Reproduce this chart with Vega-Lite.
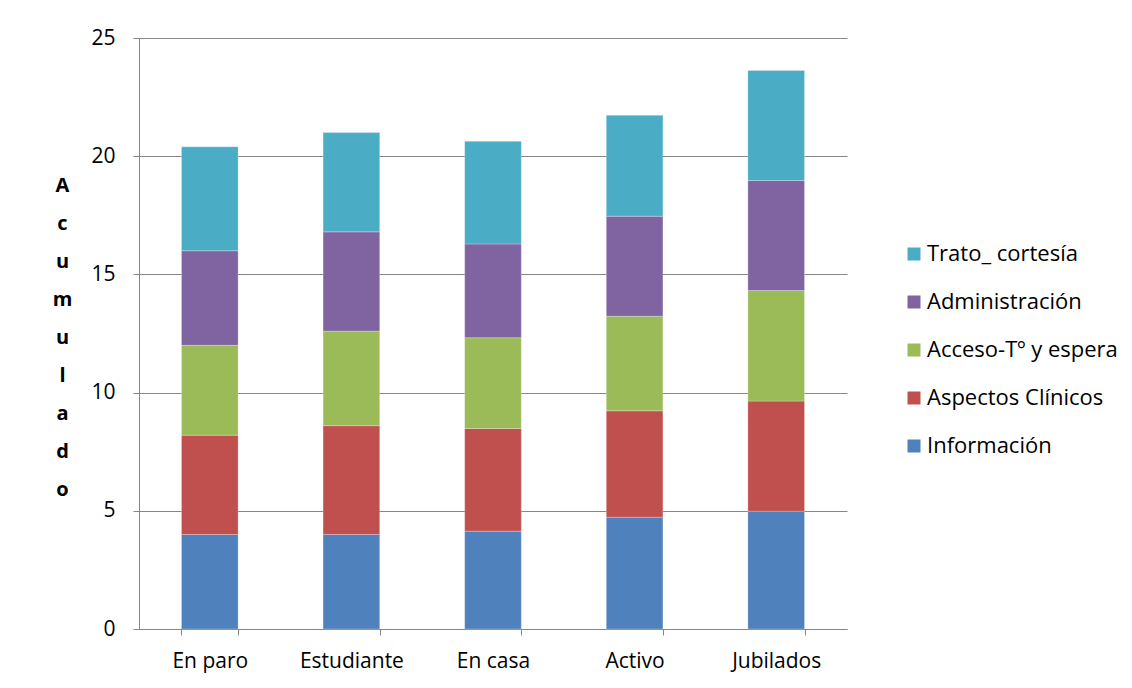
{
  "$schema": "https://vega.github.io/schema/vega-lite/v6.json",
  "width": 708,
  "height": 591,
  "autosize": "none",
  "padding": {"left": 139, "top": 38, "right": 285, "bottom": 59},
  "background": "white",
  "data": {
    "values": [
      {"grupo": "En paro", "serie": "Información", "orden": 1, "valor": 4.0},
      {"grupo": "En paro", "serie": "Aspectos Clínicos", "orden": 2, "valor": 4.2},
      {"grupo": "En paro", "serie": "Acceso-Tº y espera", "orden": 3, "valor": 3.8},
      {"grupo": "En paro", "serie": "Administración", "orden": 4, "valor": 4.0},
      {"grupo": "En paro", "serie": "Trato_ cortesía", "orden": 5, "valor": 4.4},
      {"grupo": "Estudiante", "serie": "Información", "orden": 1, "valor": 4.0},
      {"grupo": "Estudiante", "serie": "Aspectos Clínicos", "orden": 2, "valor": 4.6},
      {"grupo": "Estudiante", "serie": "Acceso-Tº y espera", "orden": 3, "valor": 4.0},
      {"grupo": "Estudiante", "serie": "Administración", "orden": 4, "valor": 4.2},
      {"grupo": "Estudiante", "serie": "Trato_ cortesía", "orden": 5, "valor": 4.2},
      {"grupo": "En casa", "serie": "Información", "orden": 1, "valor": 4.14},
      {"grupo": "En casa", "serie": "Aspectos Clínicos", "orden": 2, "valor": 4.34},
      {"grupo": "En casa", "serie": "Acceso-Tº y espera", "orden": 3, "valor": 3.84},
      {"grupo": "En casa", "serie": "Administración", "orden": 4, "valor": 3.97},
      {"grupo": "En casa", "serie": "Trato_ cortesía", "orden": 5, "valor": 4.34},
      {"grupo": "Activo", "serie": "Información", "orden": 1, "valor": 4.73},
      {"grupo": "Activo", "serie": "Aspectos Clínicos", "orden": 2, "valor": 4.5},
      {"grupo": "Activo", "serie": "Acceso-Tº y espera", "orden": 3, "valor": 4.0},
      {"grupo": "Activo", "serie": "Administración", "orden": 4, "valor": 4.23},
      {"grupo": "Activo", "serie": "Trato_ cortesía", "orden": 5, "valor": 4.27},
      {"grupo": "Jubilados", "serie": "Información", "orden": 1, "valor": 4.98},
      {"grupo": "Jubilados", "serie": "Aspectos Clínicos", "orden": 2, "valor": 4.66},
      {"grupo": "Jubilados", "serie": "Acceso-Tº y espera", "orden": 3, "valor": 4.68},
      {"grupo": "Jubilados", "serie": "Administración", "orden": 4, "valor": 4.65},
      {"grupo": "Jubilados", "serie": "Trato_ cortesía", "orden": 5, "valor": 4.66}
    ]
  },
  "mark": {"type": "bar", "stroke": "#ffffff", "strokeOpacity": 0.5, "strokeWidth": 0.5},
  "encoding": {
    "x": {
      "field": "grupo",
      "type": "nominal",
      "sort": ["En paro", "Estudiante", "En casa", "Activo", "Jubilados"],
      "scale": {"paddingInner": 0.6, "paddingOuter": 0.3},
      "axis": {
        "title": null,
        "labelAngle": 0,
        "tickBand": "extent",
        "tickSize": 6,
        "tickColor": "#868686",
        "domainColor": "#868686",
        "labelFontSize": 21,
        "labelFont": "Open Sans",
        "labelColor": "#000000",
        "labelPadding": 15,
        "grid": false
      }
    },
    "y": {
      "aggregate": "sum",
      "field": "valor",
      "type": "quantitative",
      "stack": "zero",
      "scale": {"domain": [0, 25]},
      "axis": {
        "values": [0, 5, 10, 15, 20, 25],
        "title": ["A", "c", "u", "m", "u", "l", "a", "d", "o"],
        "titleAngle": 0,
        "titleAlign": "center",
        "titleBaseline": "top",
        "titleX": -77,
        "titleY": 137,
        "titleLineHeight": 38,
        "titleFontSize": 20,
        "titleFont": "Open Sans",
        "titleFontWeight": "bold",
        "titleColor": "#000000",
        "tickSize": 6,
        "tickColor": "#868686",
        "domainColor": "#868686",
        "gridColor": "#868686",
        "gridWidth": 1,
        "labelFontSize": 21,
        "labelFont": "Open Sans",
        "labelColor": "#000000",
        "labelPadding": 18
      }
    },
    "color": {
      "field": "serie",
      "type": "nominal",
      "scale": {
        "domain": ["Trato_ cortesía", "Administración", "Acceso-Tº y espera", "Aspectos Clínicos", "Información"],
        "range": ["#4BACC6", "#8064A2", "#9BBB59", "#C0504D", "#4F81BD"]
      },
      "legend": {
        "title": null,
        "orient": "none",
        "legendX": 764,
        "legendY": 205,
        "symbolType": "square",
        "symbolSize": 169,
        "symbolStrokeWidth": 0,
        "labelFontSize": 22,
        "labelFont": "Open Sans",
        "labelColor": "#000000",
        "labelOffset": 2,
        "rowPadding": 26,
        "labelLimit": 300
      }
    },
    "order": {"field": "orden", "type": "quantitative", "sort": "ascending"}
  },
  "config": {
    "view": {"stroke": null}
  }
}
